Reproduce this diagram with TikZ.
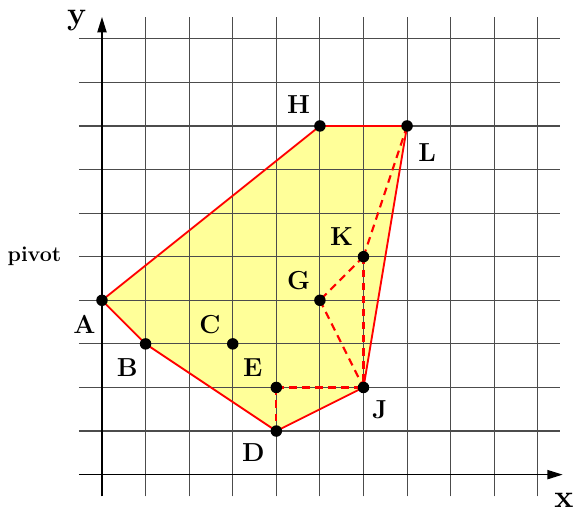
\documentclass[tikz,border=0pt]{standalone}
\usetikzlibrary{arrows.meta,calc}
\definecolor{hullfill}{RGB}{255,255,153}
\tikzset{
  gridline/.style={black!70,line width=0.75pt},
  axisline/.style={black,line width=0.9pt,-{Triangle[length=10pt,width=6pt]}},
  hulledge/.style={red,line width=1.2pt},
  dashedge/.style={red,line width=1.4pt,dash pattern=on 5pt off 3.5pt},
  pt/.style={circle,fill=black,inner sep=0pt,minimum size=7.5pt},
  lbl/.style={font=\fontsize{17}{17}\selectfont\bfseries,inner sep=0pt},
  axlbl/.style={font=\fontsize{21}{21}\selectfont\bfseries,inner sep=0pt},
}
\begin{document}
\begin{tikzpicture}
\useasboundingbox (-2.34,-0.85) rectangle (10.83,10.89);
% points
\coordinate (A) at (0,4);
\coordinate (B) at (1,3);
\coordinate (C) at (3,3);
\coordinate (D) at (4,1);
\coordinate (E) at (4,2);
\coordinate (G) at (5,4);
\coordinate (H) at (5,8);
\coordinate (J) at (6,2);
\coordinate (K) at (6,5);
\coordinate (L) at (7,8);
% fill
\fill[hullfill] (A) -- (H) -- (L) -- (J) -- (D) -- (B) -- cycle;
% grid
\foreach \i in {1,...,10} \draw[gridline] (\i,-0.5) -- (\i,10.5);
\foreach \j in {1,...,10} \draw[gridline] (-0.53,\j) -- (10.5,\j);
% axes
\coordinate (xs) at (-0.53,0);
\coordinate (xe) at (10.57,0);
\coordinate (ys) at (0,-0.5);
\coordinate (ye) at (0,10.5);
\draw[axisline] (xs) -- (xe);
\draw[axisline] (ys) -- (ye);
\node[axlbl] (xl) at (10.6,-0.58) {x};
\node[axlbl] (yl) at (-0.58,10.42) {y};
% hull edges
\draw[hulledge] (A) -- (H) -- (L) -- (J) -- (D) -- (B) -- cycle;
% dashed edges
\draw[dashedge] (L) -- (K);
\draw[dashedge] (K) -- (J);
\draw[dashedge] (K) -- (G);
\draw[dashedge] (G) -- (J);
\draw[dashedge] (E) -- (J);
\draw[dashedge] (E) -- (D);
% dots
\foreach \p in {A,B,C,D,E,G,H,J,K,L} \node[pt] (n\p) at (\p) {};
% labels
\node[lbl] (lA) at ($(A)+(-0.4,-0.56)$) {A};
\node[lbl] (lB) at ($(B)+(-0.42,-0.55)$) {B};
\node[lbl] (lC) at ($(C)+(-0.52,0.44)$) {C};
\node[lbl] (lD) at ($(D)+(-0.53,-0.49)$) {D};
\node[lbl] (lE) at ($(E)+(-0.54,0.46)$) {E};
\node[lbl] (lG) at ($(G)+(-0.49,0.46)$) {G};
\node[lbl] (lH) at ($(H)+(-0.49,0.49)$) {H};
\node[lbl] (lJ) at ($(J)+(0.37,-0.5)$) {J};
\node[lbl] (lK) at ($(K)+(-0.5,0.46)$) {K};
\node[lbl] (lL) at ($(L)+(0.46,-0.6)$) {L};
\node[font=\fontsize{14}{14}\selectfont\bfseries,inner sep=0pt] (pv) at (-1.55,5.0) {pivot};
\end{tikzpicture}
\end{document}
